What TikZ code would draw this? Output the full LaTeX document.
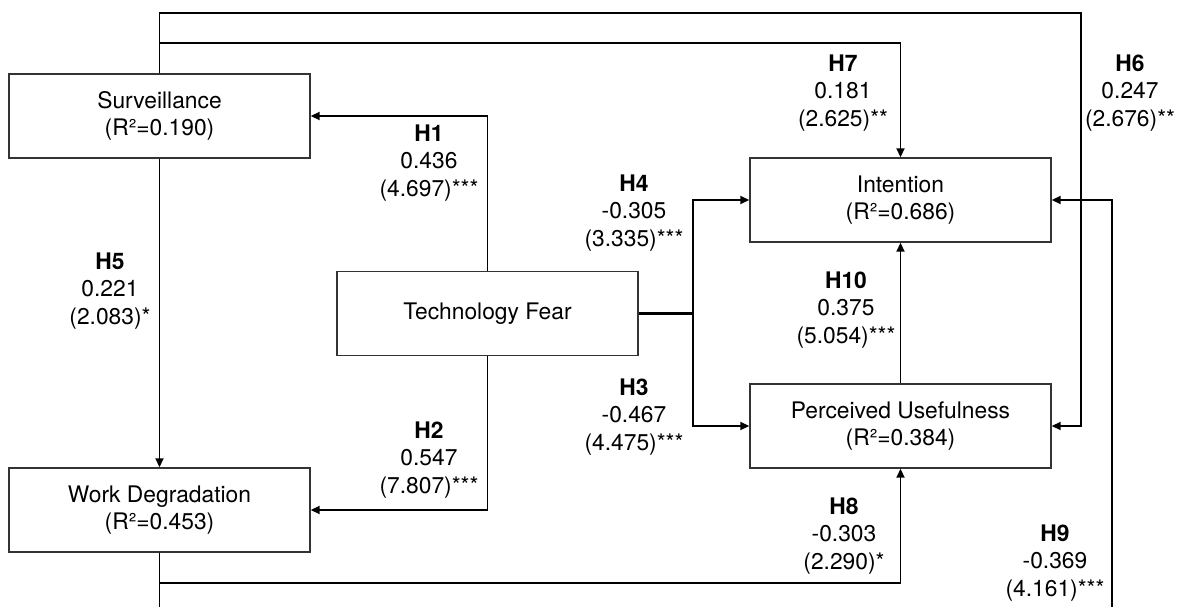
\documentclass[tikz,border=0pt]{standalone}
\usepackage{fontspec}
\setmainfont{TeX Gyre Heros}
\usetikzlibrary{arrows.meta}
\begin{document}
\begin{tikzpicture}[x=1pt,y=-1pt,
  font=\fontsize{22.8}{27.5}\selectfont,
  box/.style={draw=black!80, line width=1.4pt, rectangle, minimum width=301pt, minimum height=84pt, align=center, inner sep=0pt},
  conn/.style={draw=black, line width=1.8pt, -{Triangle[length=9pt,width=8pt]}},
  lbl/.style={align=center, inner sep=0pt}
]
\useasboundingbox (0,0) rectangle (1184,607);
\fill[white] (0,0) rectangle (1184,607);

% boxes
\node[box] (surv) at (159.5,116) {Surveillance\\(R²=0.190)};
\node[box] (wd) at (159.5,510) {Work Degradation\\(R²=0.453)};
\node[box] (tf) at (487.5,313.5) {Technology Fear};
\node[box] (int) at (900.5,200) {Intention\\(R²=0.686)};
\node[box] (pu) at (900.5,426) {Perceived Usefulness\\(R²=0.384)};

% bend points
\coordinate (j) at (693,313.5);
\coordinate (t7) at (900.5,43);
\coordinate (t6) at (1081,13);
\coordinate (b8) at (900.5,583);
\coordinate (b9) at (1112,625);

% connectors
\draw[conn] (tf.north) |- (surv.east);
\draw[conn] (tf.south) |- (wd.east);
\draw[draw=black, line width=2.8pt] (tf.east) -- (j);
\draw[conn] (j) |- (int.west);
\draw[conn] (j) |- (pu.west);
\draw[conn] (surv.south) -- (wd.north);
\draw[conn] (surv.north) |- (t7) -- (int.north);
\draw[conn] (surv.north) |- (t6) |- (pu.east);
\draw[conn] (pu.north) -- (int.south);
\draw[conn] (wd.south) |- (b8) -- (pu.south);
\draw[conn] (wd.south) |- (b9) |- (int.east);

% labels
\node[lbl] (l1) at (429,163) {\textbf{H1}\\0.436\\(4.697)***};
\node[lbl] (l2) at (429,460) {\textbf{H2}\\0.547\\(7.807)***};
\node[lbl] (l3) at (634,417) {\textbf{H3}\\-0.467\\(4.475)***};
\node[lbl] (l4) at (634,213) {\textbf{H4}\\-0.305\\(3.335)***};
\node[lbl] (l5) at (110,291) {\textbf{H5}\\0.221\\(2.083)*};
\node[lbl] (l6) at (1130,93) {\textbf{H6}\\0.247\\(2.676)**};
\node[lbl] (l7) at (843,93) {\textbf{H7}\\0.181\\(2.625)**};
\node[lbl] (l8) at (844,536) {\textbf{H8}\\-0.303\\(2.290)*};
\node[lbl] (l9) at (1055,563) {\textbf{H9}\\-0.369\\(4.161)***};
\node[lbl] (l10) at (846,310) {\textbf{H10}\\0.375\\(5.054)***};
\end{tikzpicture}
\end{document}
